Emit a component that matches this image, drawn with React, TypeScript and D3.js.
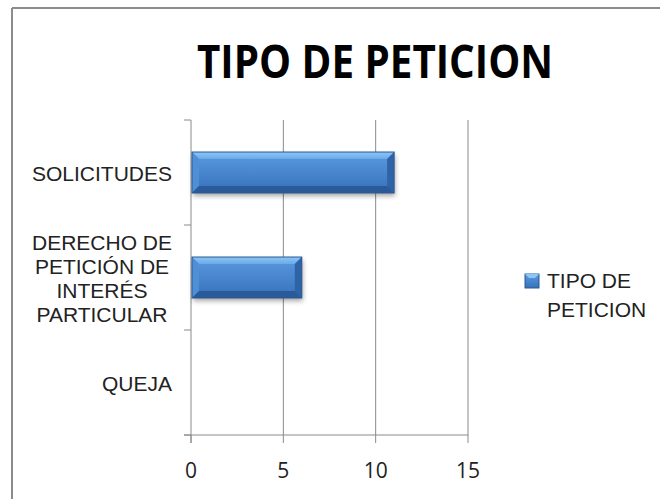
import React from "react";
import * as d3 from "d3";

const title = "TIPO DE PETICION";
const categories = ["SOLICITUDES", "DERECHO DE PETICIÓN DE INTERÉS PARTICULAR", "QUEJA"];
const categoryLines = [["SOLICITUDES"], ["DERECHO DE", "PETICIÓN DE", "INTERÉS", "PARTICULAR"], ["QUEJA"]];
const values = [11, 6, 0];
const xTicks = [0, 5, 10, 15];
const seriesName = ["TIPO DE", "PETICION"];

export default function App() {
  const W = 660, H = 499;
  const left = 191, right = 468, top = 120, bottom = 435;
  const x = d3.scaleLinear().domain([0, 15]).range([left, right]);
  const y = d3.scaleBand<string>().domain(categories).range([top, bottom]).paddingInner(0.61).paddingOuter(0.305);
  const step = (bottom - top) / categories.length;
  const boundaries = d3.range(categories.length + 1).map((i) => top + i * step);
  const grid = "#8a8a8a";
  const b = 7;

  return (
    <svg width={W} height={H} style={{ position: "absolute", left: 0, top: 0, background: "#fff" }}>
      <defs>
        <linearGradient id="barFace" x1="0" y1="0" x2="0" y2="1">
          <stop offset="0" stopColor="#5a9ae0" />
          <stop offset="1" stopColor="#3671bb" />
        </linearGradient>
        <linearGradient id="bevTop" x1="0" y1="0" x2="0" y2="1">
          <stop offset="0" stopColor="#8cc6f6" />
          <stop offset="1" stopColor="#6aaaea" />
        </linearGradient>
        <filter id="shadow" x="-10%" y="-20%" width="120%" height="160%">
          <feDropShadow dx="1" dy="3" stdDeviation="2.5" floodColor="#000" floodOpacity="0.35" />
        </filter>
      </defs>
      {/* outer border */}
      <line x1={12} y1={8} x2={W} y2={8} stroke="#8c8c8c" strokeWidth={2} />
      <line x1={12} y1={8} x2={12} y2={H} stroke="#8c8c8c" strokeWidth={2} />

      <text x={375} y={78} textAnchor="middle" fontFamily="'Open Sans', sans-serif" fontWeight="bold" fontSize={46} textLength={356} lengthAdjust="spacingAndGlyphs" fill="#000">
        {title}
      </text>

      {/* gridlines */}
      {xTicks.slice(1).map((t) => (
        <line key={t} x1={x(t)} x2={x(t)} y1={top} y2={bottom} stroke={grid} strokeWidth={1} />
      ))}
      {/* y axis */}
      <line x1={left} x2={left} y1={top} y2={bottom + 8} stroke={grid} strokeWidth={1} />
      {boundaries.map((yy, i) => (
        <line key={i} x1={left - 7} x2={left} y1={yy} y2={yy} stroke={grid} strokeWidth={1} />
      ))}
      {/* x axis */}
      <line x1={left - 7} x2={right} y1={bottom} y2={bottom} stroke={grid} strokeWidth={1} />
      {xTicks.map((t) => (
        <line key={t} x1={x(t)} x2={x(t)} y1={bottom} y2={bottom + 8} stroke={grid} strokeWidth={1} />
      ))}
      {xTicks.map((t) => (
        <text key={t} x={x(t)} y={478} textAnchor="middle" fontFamily="'Open Sans', sans-serif" fontSize={21} fill="#222">
          {t}
        </text>
      ))}

      {/* bars */}
      {categories.map((c, i) => {
        const v = values[i];
        if (v <= 0) return null;
        const x0 = x(0) + 1, x1 = x(v), y0 = y(c)!, y1 = y0 + y.bandwidth();
        return (
          <g key={c}>
            <rect x={x0} y={y0} width={x1 - x0} height={y1 - y0} fill="url(#barFace)" filter="url(#shadow)" />
            <polygon points={`${x0},${y0} ${x1},${y0} ${x1 - b},${y0 + b} ${x0 + b},${y0 + b}`} fill="url(#bevTop)" />
            <polygon points={`${x0},${y0} ${x0 + b},${y0 + b} ${x0 + b},${y1 - b} ${x0},${y1}`} fill="#4f8fd6" />
            <polygon points={`${x1},${y0} ${x1},${y1} ${x1 - b},${y1 - b} ${x1 - b},${y0 + b}`} fill="#2f63a5" />
            <polygon points={`${x0},${y1} ${x1},${y1} ${x1 - b},${y1 - b} ${x0 + b},${y1 - b}`} fill="#2a5b98" />
            <rect x={x0} y={y0} width={x1 - x0} height={y1 - y0} fill="none" stroke="#2b5a93" strokeWidth={1} />
          </g>
        );
      })}

      {/* category labels */}
      {categories.map((c, i) => {
        const lines = categoryLines[i];
        const cy = y(c)! + y.bandwidth() / 2;
        const lh = 24;
        const firstBase = cy - ((lines.length - 1) * lh) / 2 + 8;
        const multi = lines.length > 1;
        return (
          <text key={c} fontFamily="'Liberation Sans', Arial, sans-serif" fontSize={21} fill="#222" textAnchor={multi ? "middle" : "end"}>
            {lines.map((l, j) => (
              <tspan key={j} x={multi ? 102 : 172} y={firstBase + j * lh}>
                {l}
              </tspan>
            ))}
          </text>
        );
      })}

      {/* legend */}
      <rect x={525} y={274} width={14} height={14} fill="url(#barFace)" stroke="#2b5a93" strokeWidth={1} />
      <polygon points="525,274 539,274 535,278 529,278" fill="#8cc6f6" />
      {seriesName.map((s, j) => (
        <text key={j} x={547} y={288 + j * 29} fontFamily="'Liberation Sans', Arial, sans-serif" fontSize={21} fill="#222">
          {s}
        </text>
      ))}
    </svg>
  );
}
